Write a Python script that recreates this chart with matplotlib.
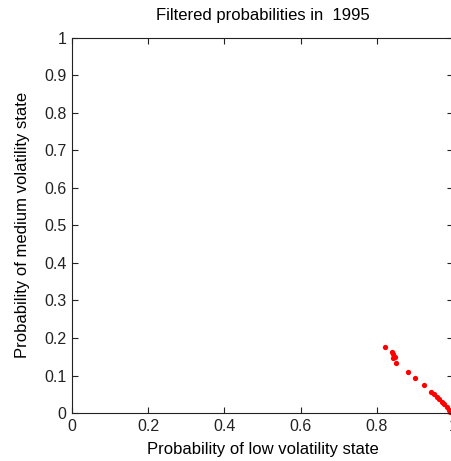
import matplotlib.pyplot as plt
import numpy as np

# filtered probabilities (low, medium volatility state)
p_low = [0.822, 0.839, 0.844, 0.848, 0.844, 0.851, 0.883, 0.901, 0.924,
         0.942, 0.951, 0.958, 0.965, 0.971, 0.977, 0.984, 0.990, 0.992]
p_med = [0.175, 0.162, 0.157, 0.150, 0.146, 0.133, 0.110, 0.094, 0.075,
         0.057, 0.051, 0.044, 0.037, 0.030, 0.024, 0.017, 0.008, 0.004]

xticks = [0, 0.2, 0.4, 0.6, 0.8, 1]
yticks = np.round(np.arange(0, 1.01, 0.1), 1)

plt.rcParams['font.family'] = ['Liberation Sans', 'DejaVu Sans']

fig = plt.figure(figsize=(4.51, 4.61), dpi=100)
ax = fig.add_axes([0.16, 0.104, 0.844, 0.814])

ax.plot(p_low, p_med, 'o', color='red', markersize=3.8, markeredgewidth=0,
        clip_on=False)

ax.set_xlim(0, 1)
ax.set_ylim(0, 1)
ax.set_xticks(xticks)
ax.set_yticks(yticks)
ax.set_xticklabels(['%g' % t for t in xticks])
ax.set_yticklabels(['%g' % t for t in yticks])
ax.tick_params(direction='in', top=True, right=True, length=4, width=0.8,
               labelsize=11.5, colors='#222222', pad=4)
for s in ax.spines.values():
    s.set_linewidth(0.8)
    s.set_color('#222222')

ax.set_xlabel('Probability of low volatility state', fontsize=12, labelpad=6)
ax.set_ylabel('Probability of medium volatility state', fontsize=12, labelpad=10)
ax.set_title('Filtered probabilities in  1995', fontsize=12, pad=13)

fig.savefig('out.png', dpi=100)
